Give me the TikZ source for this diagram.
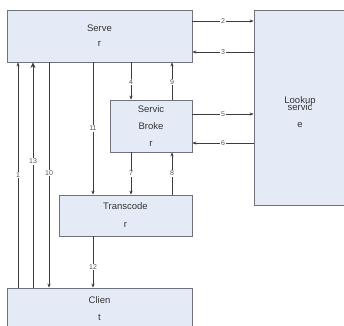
\documentclass[tikz,border=0pt]{standalone}
\usepackage{fontspec}
\setmainfont{Liberation Sans}
\usetikzlibrary{arrows.meta}
\definecolor{boxfill}{HTML}{E5EBF6}
\definecolor{boxline}{HTML}{6E737C}
\definecolor{wire}{HTML}{3C3C3C}
\definecolor{lbl}{HTML}{555555}
\begin{document}
\begin{tikzpicture}[x=1pt,y=-1pt,
  box/.style={draw=boxline,fill=boxfill,line width=0.8pt,inner sep=0pt,align=center,
    text=black!80,font=\fontsize{9.5}{15}\selectfont},
  arr/.style={draw=wire,line width=0.6pt,-{Stealth[length=4pt,width=3.2pt]}},
  bigarr/.style={draw=wire,line width=0.6pt,-{Stealth[length=5.5pt,width=5pt]}},
  num/.style={fill=white,inner sep=0.6pt,text=lbl,font=\fontsize{7}{8}\selectfont}]
\useasboundingbox (0,0) rectangle (344,325);
% boxes
\node[box,minimum width=185pt,minimum height=52pt] (server) at (99.5,36) {Serve\\r};
\node[box,minimum width=93pt,minimum height=195pt] (lookup) at (300.5,107.5) {};
\node[align=center,inner sep=0pt,text=black!80,font=\fontsize{9.5}{15}\selectfont] (lookuptext) at (300,112) {Lookup\\[-8pt]servic\\[2pt]e};
\node[box,minimum width=82pt,minimum height=52pt,font=\fontsize{9.5}{17}\selectfont] (broker) at (151,126) {Servic\\Broke\\r};
\node[box,minimum width=133pt,minimum height=41pt,font=\fontsize{9.5}{18}\selectfont] (trans) at (125.5,215.5) {Transcode\\r};
\node[box,minimum width=185pt,minimum height=42pt,font=\fontsize{9.5}{17}\selectfont] (client) at (99.5,309) {Clien\\t};
% coordinates for wire positions
\coordinate (y2) at (0,21);
\coordinate (y3) at (0,52);
\coordinate (y5) at (0,114);
\coordinate (y6) at (0,143);
\coordinate (x1) at (18,0);
\coordinate (x13) at (33,0);
\coordinate (x10) at (49,0);
\coordinate (x11) at (93,0);
\coordinate (x4) at (131,0);
\coordinate (x9) at (172,0);
% horizontal
\draw[arr] (y2 -| server.east) -- node[num,pos=0.5]{2} (y2 -| lookup.west);
\draw[arr] (y3 -| lookup.west) -- node[num,pos=0.5]{3} (y3 -| server.east);
\draw[arr] (y5 -| broker.east) -- node[num,pos=0.5]{5} (y5 -| lookup.west);
\draw[arr] (y6 -| lookup.west) -- node[num,pos=0.5]{6} (y6 -| broker.east);
% vertical between server / broker / transcoder
\draw[arr] (x4 |- server.south) -- node[num,pos=0.52]{4} (x4 |- broker.north);
\draw[arr] (x9 |- broker.north) -- node[num,pos=0.48]{9} (x9 |- server.south);
\draw[arr] (x4 |- broker.south) -- node[num,pos=0.5]{7} (x4 |- trans.north);
\draw[arr] (x9 |- trans.north) -- node[num,pos=0.5]{8} (x9 |- broker.south);
\draw[arr] (x11 |- server.south) -- node[num,pos=0.5]{11} (x11 |- trans.north);
\draw[arr] (x11 |- trans.south) -- node[num,pos=0.6]{12} (x11 |- client.north);
% long verticals
\draw[arr] (x1 |- client.north) -- node[num,pos=0.5]{1} (x1 |- server.south);
\draw[bigarr] (x13 |- client.north) -- node[num,pos=0.56]{13} (x13 |- server.south);
\draw[arr] (x10 |- server.south) -- node[num,pos=0.49]{10} (x10 |- client.north);
\end{tikzpicture}
\end{document}
